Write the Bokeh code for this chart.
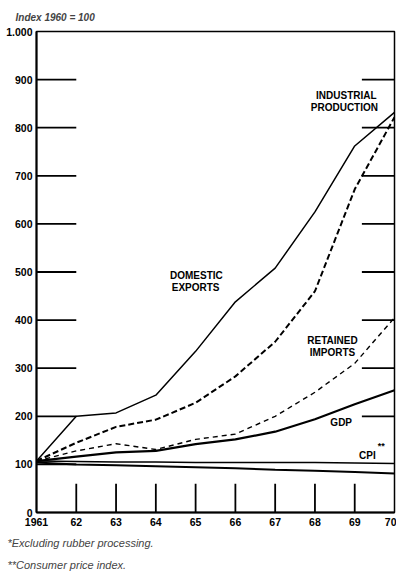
from bokeh.plotting import figure
from bokeh.models import Range1d, FixedTicker, Title
from bokeh.core.properties import value
from bokeh.embed import file_html
from bokeh.resources import INLINE

years = [1961, 1962, 1963, 1964, 1965, 1966, 1967, 1968, 1969, 1970]
year_labels = ["1961", "62", "63", "64", "65", "66", "67", "68", "69", "70"]
domestic_exports = [107, 200, 207, 244, 335, 438, 508, 625, 762, 832]
industrial_production = [107, 145, 178, 193, 228, 283, 355, 460, 672, 822]
retained_imports = [107, 128, 143, 131, 152, 163, 200, 250, 310, 405]
gdp = [107, 116, 125, 128, 142, 152, 168, 194, 225, 254]
cpi = [107, 106, 105, 105, 104, 104, 104, 104, 103, 102]
lower_line = [104, 100, 98, 96, 94, 92, 89, 87, 84, 81]

y_ticks = [0, 100, 200, 300, 400, 500, 600, 700, 800, 900, 1000]
y_labels = ["0", "100", "200", "300", "400", "500", "600", "700", "800", "900", "1.000"]
left_tick_vals = [100, 200, 300, 400, 500, 600, 700, 800, 900]
right_tick_vals = [200, 300, 400, 500, 600, 700, 800, 900]
bottom_tick_years = [1962, 1963, 1964, 1965, 1966, 1967, 1968, 1969]

labels_text = ["INDUSTRIAL", "PRODUCTION", "DOMESTIC", "EXPORTS", "RETAINED", "IMPORTS", "GDP", "CPI"]
labels_x = [1968.79, 1968.74, 1965.02, 1965.0, 1968.44, 1968.44, 1968.66, 1969.32]
labels_y = [867, 842, 493, 468, 358, 333, 187, 118]

FONT = "Liberation Sans"

p = figure(width=396, height=571, x_range=Range1d(1961, 1970), y_range=Range1d(0, 1000),
           output_backend="svg", toolbar_location=None,
           min_border_left=36, min_border_right=2, min_border_top=31, min_border_bottom=59)
p.xgrid.visible = False
p.ygrid.visible = False
p.outline_line_color = "black"
p.outline_line_width = 1.5
p.outline_line_alpha = 1.0
p.background_fill_color = "white"
p.border_fill_color = "white"

p.xaxis.ticker = FixedTicker(ticks=years)
p.xaxis.major_label_overrides = {y: l for y, l in zip(years, year_labels)}
p.yaxis.ticker = FixedTicker(ticks=y_ticks)
p.yaxis.major_label_overrides = {t: l for t, l in zip(y_ticks, y_labels)}
for ax in (p.xaxis[0], p.yaxis[0]):
    ax.major_tick_in = 0
    ax.major_tick_out = 0
    ax.minor_tick_in = 0
    ax.minor_tick_out = 0
    ax.axis_line_width = 2
    ax.axis_line_color = "black"
    ax.major_label_text_font = FONT
    ax.major_label_text_font_style = "bold"
    ax.major_label_text_font_size = "10.5px"
    ax.major_label_text_color = "black"
p.yaxis.major_label_standoff = 4
p.xaxis.major_label_standoff = 5

# inner tick marks
p.segment(x0=[years[0]] * len(left_tick_vals), y0=left_tick_vals,
          x1=[years[0] + 1.0] * len(left_tick_vals), y1=left_tick_vals,
          line_color="black", line_width=1.8)
p.segment(x0=[years[-1] - 0.82] * len(right_tick_vals), y0=right_tick_vals,
          x1=[years[-1]] * len(right_tick_vals), y1=right_tick_vals,
          line_color="black", line_width=1.8)
p.segment(x0=bottom_tick_years, y0=[0] * len(bottom_tick_years),
          x1=bottom_tick_years, y1=[60] * len(bottom_tick_years),
          line_color="black", line_width=1.8)

# series
p.line(years, lower_line, line_color="black", line_width=2)
p.line(years, cpi, line_color="black", line_width=1.5)
p.line(years, gdp, line_color="black", line_width=2.2)
p.line(years, retained_imports, line_color="black", line_width=1.4, line_dash="5 4")
p.line(years, industrial_production, line_color="black", line_width=2, line_dash="6 3")
p.line(years, domestic_exports, line_color="black", line_width=1.5)

p.text(x=labels_x, y=labels_y, text=labels_text, text_font=value(FONT),
       text_font_style="bold", text_font_size="10px", text_align="center",
       text_baseline="middle", text_color="black")
p.text(x=[1969.67], y=[139], text=["**"], text_font=value(FONT),
       text_font_style="bold", text_font_size="9px", text_align="center",
       text_baseline="middle", text_color="black")

p.title.text = "Index 1960 = 100"
p.title.align = "left"
p.title.offset = -21
p.title.text_font = FONT
p.title.text_font_size = "10px"
p.title.text_font_style = "bold italic"
p.title.standoff = 17

p.add_layout(Title(text="*Excluding rubber processing.", align="left", offset=-29,
                   text_font=FONT, text_font_size="11px", text_font_style="italic",
                   standoff=13), "below")
p.add_layout(Title(text="**Consumer price index.", align="left", offset=-29,
                   text_font=FONT, text_font_size="11px", text_font_style="italic",
                   standoff=2), "below")

open("out.html", "w").write(file_html(p, INLINE))
